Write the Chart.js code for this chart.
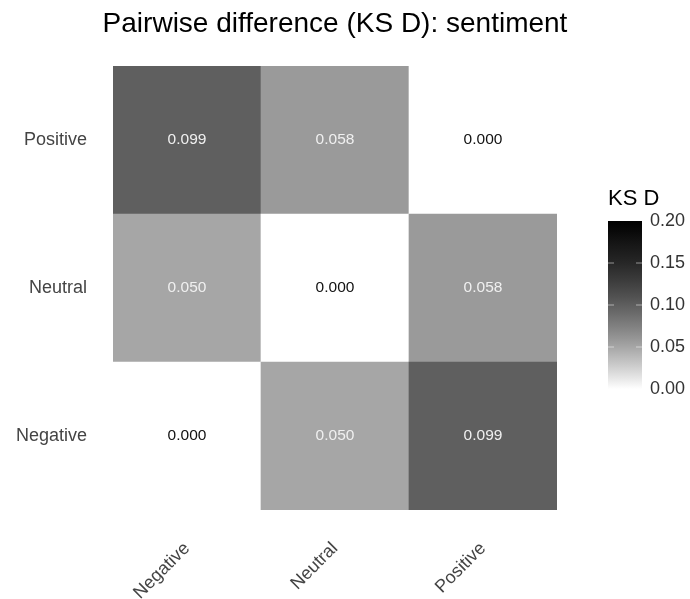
<!DOCTYPE html>
<html>
<head>
<meta charset="utf-8">
<script src="https://cdn.jsdelivr.net/npm/chart.js@4/dist/chart.umd.min.js"></script>
<style>
  html, body { margin:0; padding:0; background:#fff; overflow:hidden; }
  #wrap { width:690px; height:599px; position:relative; }
</style>
</head>
<body>
<div id="wrap"><canvas id="chartKS"></canvas></div>
<script>
// categories (x columns, y rows bottom -> top)
const groups = ["Negative", "Neutral", "Positive"];
// KS D values, one array per row (y category)
const rowNegative = [0.000, 0.050, 0.099];
const rowNeutral  = [0.050, 0.000, 0.058];
const rowPositive = [0.099, 0.058, 0.000];
const rows = [rowNegative, rowNeutral, rowPositive];
const legendTicks = [0.00, 0.05, 0.10, 0.15, 0.20];
const fillMax = 0.20;

const FONT = "'Liberation Sans', Arial, Helvetica, sans-serif";

// white -> black, perceptual lightness
function grayFor(v){
  const t = Math.min(Math.max(v / fillMax, 0), 1);
  const L = 100 * Math.pow(1 - t, 1.33);
  let Y = L > 8 ? Math.pow((L + 16) / 116, 3) : L / 903.3;
  let c = Y <= 0.0031308 ? 12.92 * Y : 1.055 * Math.pow(Y, 1 / 2.4) - 0.055;
  const g = Math.round(Math.min(Math.max(c, 0), 1) * 255);
  return `rgb(${g},${g},${g})`;
}

const datasets = rows.map((vals, r) => ({
  label: groups[r],
  data: vals.map(() => [r, r + 1]),
  values: vals,
  backgroundColor: vals.map(grayFor),
  borderWidth: 0,
  barPercentage: 1,
  categoryPercentage: 1,
  grouped: false
}));

const cellLabels = {
  id: "cellLabels",
  afterDatasetsDraw(chart){
    const { ctx } = chart;
    ctx.save();
    ctx.font = `15.5px ${FONT}`;
    ctx.textAlign = "center";
    ctx.textBaseline = "middle";
    chart.data.datasets.forEach((ds, i) => {
      chart.getDatasetMeta(i).data.forEach((bar, j) => {
        const v = ds.values[j];
        const p = bar.getCenterPoint();
        ctx.fillStyle = v > 0.02 ? "#f0f0f0" : "#111";
        ctx.fillText(v.toFixed(3), p.x, p.y);
      });
    });
    ctx.restore();
  }
};

const titleAndLegend = {
  id: "titleAndLegend",
  afterDraw(chart){
    const { ctx, chartArea } = chart;
    ctx.save();
    // title
    ctx.fillStyle = "#000";
    ctx.font = `28px ${FONT}`;
    ctx.textAlign = "center";
    ctx.textBaseline = "middle";
    ctx.fillText("Pairwise difference (KS D): sentiment", (chartArea.left + chartArea.right) / 2, 24);

    // colour bar
    const x0 = 608, w = 34, yTop = 221, yBot = 389;
    const grad = ctx.createLinearGradient(0, yBot, 0, yTop);
    for (let k = 0; k <= 20; k++){
      grad.addColorStop(k / 20, grayFor(fillMax * k / 20));
    }
    ctx.fillStyle = grad;
    ctx.fillRect(x0, yTop, w, yBot - yTop);

    ctx.font = `22px ${FONT}`;
    ctx.textAlign = "left";
    ctx.fillStyle = "#000";
    ctx.fillText("KS D", x0, 199);

    ctx.font = `18px ${FONT}`;
    ctx.fillStyle = "#333";
    legendTicks.forEach(v => {
      const y = yBot - (yBot - yTop) * v / fillMax;
      ctx.fillText(v.toFixed(2), 650, y);
      if (v > 0 && v < fillMax){
        ctx.strokeStyle = "rgba(255,255,255,0.5)";
        ctx.lineWidth = 1;
        ctx.beginPath();
        ctx.moveTo(x0, y); ctx.lineTo(x0 + 6, y);
        ctx.moveTo(x0 + w - 6, y); ctx.lineTo(x0 + w, y);
        ctx.stroke();
      }
    });
    ctx.restore();
  }
};

new Chart(document.getElementById("chartKS"), {
  type: "bar",
  data: { labels: groups, datasets },
  options: {
    responsive: true,
    maintainAspectRatio: false,
    animation: false,
    layout: { padding: { top: 66, right: 133, left: 0, bottom: 0 } },
    plugins: { legend: { display: false }, tooltip: { enabled: false }, title: { display: false } },
    scales: {
      x: {
        grid: { display: false, drawTicks: false },
        border: { display: false },
        ticks: { color: "#444", font: { family: FONT, size: 18 }, maxRotation: 45, minRotation: 45, padding: 28 },
        afterFit(scale){ scale.height = 89; }
      },
      y: {
        min: 0, max: 3,
        grid: { display: false, drawTicks: false },
        border: { display: false },
        afterBuildTicks(scale){ scale.ticks = [0.5, 1.5, 2.5].map(v => ({ value: v })); },
        ticks: {
          color: "#444", font: { family: FONT, size: 18 }, padding: 26,
          callback: v => groups[Math.floor(v)]
        },
        afterFit(scale){ scale.width = 113; }
      }
    }
  },
  plugins: [cellLabels, titleAndLegend]
});
</script>
</body>
</html>
